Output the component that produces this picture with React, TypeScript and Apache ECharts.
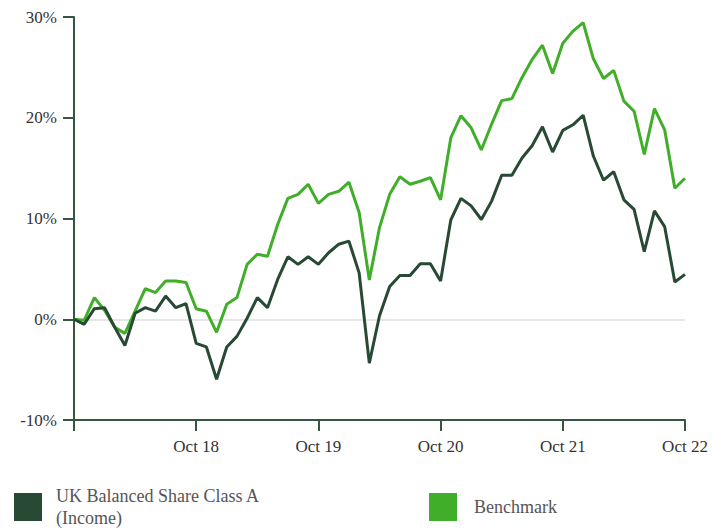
import React, { useEffect, useRef } from "react";
import * as echarts from "echarts";

const MONTHS = ["Jan", "Feb", "Mar", "Apr", "May", "Jun", "Jul", "Aug", "Sep", "Oct", "Nov", "Dec"];
// Monthly categories, Oct 2017 .. Oct 2022
const categories: string[] = [];
for (let i = 0; i <= 60; i++) {
  const m = (9 + i) % 12;
  const y = 17 + Math.floor((9 + i) / 12);
  categories.push(`${MONTHS[m]} ${y}`);
}

const fundName = "UK Balanced Share Class A (Income)";
const benchName = "Benchmark";

const fundValues = [
  0, -0.5, 1.05, 1.15, -0.8, -2.6, 0.6, 1.15, 0.8, 2.3, 1.15, 1.55,
  -2.4, -2.75, -5.95, -2.75, -1.7, 0.1, 2.15, 1.15, 3.95, 6.2, 5.45, 6.2,
  5.45, 6.6, 7.45, 7.75, 4.6, -4.35, 0.35, 3.25, 4.35, 4.35, 5.5, 5.5,
  3.8, 9.85, 12.0, 11.25, 9.9, 11.7, 14.3, 14.3, 16.0, 17.25, 19.1, 16.6,
  18.75, 19.3, 20.25, 16.2, 13.8, 14.65, 11.85, 10.9, 6.7, 10.75, 9.2, 3.7,
  4.45,
];

const benchValues = [
  0, -0.1, 2.15, 0.9, -0.8, -1.4, 0.8, 3.05, 2.65, 3.8, 3.8, 3.65,
  1.05, 0.8, -1.3, 1.5, 2.15, 5.45, 6.45, 6.25, 9.4, 12.0, 12.4, 13.4,
  11.5, 12.4, 12.7, 13.6, 10.6, 3.9, 9.1, 12.4, 14.15, 13.4, 13.7, 14.05,
  11.85, 18.0, 20.2, 19.0, 16.8, 19.35, 21.7, 21.9, 24.0, 25.8, 27.2, 24.4,
  27.4, 28.6, 29.45, 25.85, 23.9, 24.7, 21.65, 20.65, 16.35, 20.9, 18.8, 13.0,
  14.0,
];

const yTicks = { min: -10, max: 30, interval: 10 };

const FUND_COLOR = "#284a35";
const BENCH_COLOR = "#41ae2a";
const AXIS_COLOR = "#35573f";
const FONT = "Liberation Serif";

export default function App() {
  const ref = useRef<HTMLDivElement>(null);
  useEffect(() => {
    if (!ref.current) return;
    const chart = echarts.init(ref.current, undefined, { renderer: "svg" });
    chart.setOption({
      animation: false,
      grid: { left: 74, right: 27, top: 17, bottom: 108, containLabel: false },
      legend: [
        {
          data: [fundName],
          left: 14,
          top: 485,
          padding: 0,
          icon: "rect",
          itemWidth: 28,
          itemHeight: 28,
          itemGap: 14,
          selectedMode: false,
          formatter: () => "UK Balanced Share Class A\n(Income)",
          textStyle: { fontFamily: FONT, fontSize: 18, color: "#555", lineHeight: 22, padding: [0, 0, 0, 9] },
        },
        {
          data: [benchName],
          left: 429,
          top: 493,
          padding: 0,
          icon: "rect",
          itemWidth: 28,
          itemHeight: 28,
          itemGap: 14,
          selectedMode: false,
          textStyle: { fontFamily: FONT, fontSize: 18, color: "#555", padding: [0, 0, 0, 12] },
        },
      ],
      xAxis: {
        type: "category",
        data: categories,
        boundaryGap: false,
        axisLine: { show: true, onZero: false, lineStyle: { color: AXIS_COLOR, width: 2 } },
        axisTick: {
          show: true,
          length: 11,
          interval: (idx: number) => idx % 12 === 0,
          lineStyle: { color: AXIS_COLOR, width: 2 },
        },
        axisLabel: {
          interval: (idx: number) => idx % 12 === 0 && idx > 0,
          formatter: (v: string) => v.replace(/^[A-Za-z]+/, "Oct"),
          fontFamily: FONT,
          fontSize: 17,
          color: "#333",
          margin: 18,
        },
        splitLine: { show: false },
      },
      yAxis: {
        type: "value",
        min: yTicks.min,
        max: yTicks.max,
        interval: yTicks.interval,
        axisLine: { show: true, lineStyle: { color: AXIS_COLOR, width: 2 } },
        axisTick: { show: true, length: 11, lineStyle: { color: AXIS_COLOR, width: 2 } },
        axisLabel: {
          formatter: (v: number) => `${v}%`,
          fontFamily: FONT,
          fontSize: 17,
          color: "#333",
          margin: 17,
        },
        splitLine: {
          show: true,
          lineStyle: {
            color: ["transparent", "#e6e6e6", "transparent", "transparent", "transparent"],
            width: 2,
          },
        },
      },
      series: [
        {
          name: benchName,
          type: "line",
          data: benchValues,
          showSymbol: false,
          symbol: "none",
          lineStyle: { color: BENCH_COLOR, width: 3 },
          itemStyle: { color: BENCH_COLOR },
          z: 2,
        },
        {
          name: fundName,
          type: "line",
          data: fundValues,
          showSymbol: false,
          symbol: "none",
          lineStyle: { color: FUND_COLOR, width: 3 },
          itemStyle: { color: FUND_COLOR },
          z: 3,
        },
      ],
    });
    return () => chart.dispose();
  }, []);
  return <div ref={ref} style={{ width: 712, height: 528, position: "absolute", left: 0, top: 0 }} />;
}
